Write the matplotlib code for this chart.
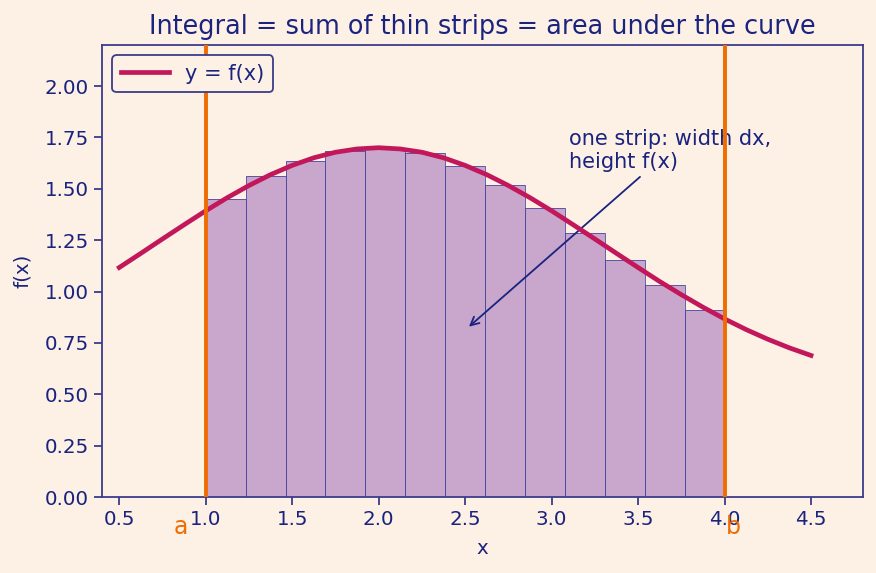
import numpy as np
import matplotlib
matplotlib.use("Agg")
import matplotlib.pyplot as plt

# curve samples
curve_x = [0.5, 0.625, 0.75, 0.875, 1.0, 1.125, 1.25, 1.375, 1.5, 1.625, 1.75, 1.875,
           2.0, 2.125, 2.25, 2.375, 2.5, 2.625, 2.75, 2.875, 3.0, 3.125, 3.25, 3.375,
           3.5, 3.625, 3.75, 3.875, 4.0, 4.125, 4.25, 4.375, 4.5]
curve_y = [1.117, 1.186, 1.256, 1.325, 1.393, 1.457, 1.516, 1.569, 1.614, 1.651, 1.678, 1.694,
           1.700, 1.694, 1.678, 1.651, 1.614, 1.569, 1.516, 1.457, 1.393, 1.325, 1.256, 1.186,
           1.117, 1.049, 0.985, 0.924, 0.867, 0.815, 0.768, 0.726, 0.689]

a, b = 1.0, 4.0
n_strips = 13
strip_heights = [1.45, 1.56, 1.635, 1.685, 1.695, 1.675, 1.61, 1.52, 1.405, 1.285, 1.155, 1.03, 0.91]

bg = "#fdf1e6"
navy = "#1a237e"
spine_c = "#3c3c8c"
crimson = "#c2185b"
orange = "#ef6c00"

fig = plt.figure(figsize=(8.76, 5.73), dpi=100, facecolor=bg)
ax = fig.add_axes([0.1164, 0.1326, 0.8686, 0.7889], facecolor=bg)

dx = (b - a) / n_strips
lefts = [a + i * dx for i in range(n_strips)]
ax.bar(lefts, strip_heights, width=dx, align="edge", color="#6a1b9a", alpha=0.35,
       linewidth=0, zorder=2)
ax.bar(lefts, strip_heights, width=dx, align="edge", facecolor="none",
       edgecolor="#4a4aa0", linewidth=0.6, zorder=2.1)

ax.plot(curve_x, curve_y, color=crimson, lw=3.4, label="y = f(x)", zorder=4)
ax.axvline(a, color=orange, lw=2.8, zorder=5)
ax.axvline(b, color=orange, lw=2.8, zorder=5)

ax.text(0.9, -0.145, "a", color=orange, fontsize=17, ha="right", va="center", clip_on=False)
ax.text(4.01, -0.145, "b", color=orange, fontsize=17, ha="left", va="center", clip_on=False)

ax.annotate("one strip: width dx,\nheight f(x)", xy=(2.51, 0.82), xytext=(3.1, 1.6),
            color=navy, fontsize=15,
            arrowprops=dict(arrowstyle="->", color=navy, lw=1.3))

ax.set_xlim(0.4, 4.8)
ax.set_ylim(0, 2.2)
ax.set_xticks([0.5, 1.0, 1.5, 2.0, 2.5, 3.0, 3.5, 4.0, 4.5])
ax.set_yticks([0, 0.25, 0.5, 0.75, 1.0, 1.25, 1.5, 1.75, 2.0])
ax.xaxis.set_major_formatter(matplotlib.ticker.FormatStrFormatter("%.1f"))
ax.yaxis.set_major_formatter(matplotlib.ticker.FormatStrFormatter("%.2f"))
ax.tick_params(colors=spine_c, labelcolor=navy, labelsize=14.3, length=5.5, width=1.3, pad=4)
for s in ax.spines.values():
    s.set_color(spine_c)
    s.set_linewidth(1.3)

ax.set_title("Integral = sum of thin strips = area under the curve", color=navy, fontsize=18.4, pad=8)
ax.set_xlabel("x", color=navy, fontsize=14.3, labelpad=7)
ax.set_ylabel("f(x)", color=navy, fontsize=14.3, labelpad=9)

leg = ax.legend(loc="upper left", fontsize=15, facecolor=bg, edgecolor=spine_c,
                framealpha=1, labelcolor=navy, borderaxespad=0.5, handlelength=2.3)
leg.get_frame().set_linewidth(1.3)

fig.savefig("out.png", dpi=100, facecolor=bg)
